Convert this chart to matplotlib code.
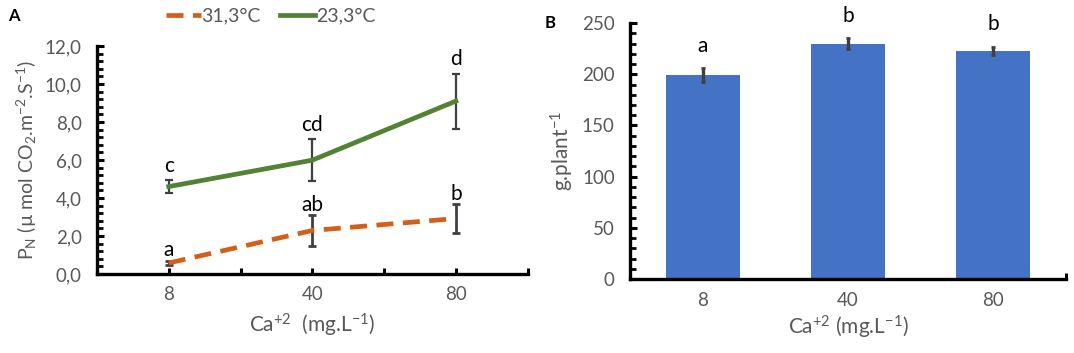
import matplotlib
matplotlib.use("Agg")
import matplotlib.pyplot as plt
from matplotlib.ticker import MultipleLocator, FixedLocator
from matplotlib.lines import Line2D
import numpy as np

plt.rcParams['font.family'] = ['Lato', 'DejaVu Sans']
plt.rcParams['mathtext.default'] = 'regular'

# ---- data ----
categories = ["8", "40", "80"]
pn_hot = [0.58, 2.29, 2.92]          # 31,3°C
pn_hot_err = [0.12, 0.80, 0.75]
pn_cool = [4.6, 5.99, 9.1]           # 23,3°C
pn_cool_err = [0.35, 1.12, 1.45]
letters_hot = ["a", "ab", "b"]
letters_cool = ["c", "cd", "d"]
series_names = ["31,3°C", "23,3°C"]

mass = [199, 230, 223]
mass_err = [7, 5, 4]
letters_mass = ["a", "b", "b"]

ORANGE = "#D2601A"
GREEN = "#548235"
BLUE = "#4472C4"
GRAY = "#595959"
ERR = "#404040"
DASH = (0, (3.6, 2.0))

fig = plt.figure(figsize=(10.74, 3.53), dpi=100)

# ---------- panel A ----------
axA = fig.add_axes([0.0903, 0.2238, 0.401, 0.646])
x = np.arange(len(categories))
axA.errorbar(x, pn_hot, yerr=pn_hot_err, color=ORANGE, lw=3.4, ls=DASH,
             ecolor=ERR, elinewidth=2.0, capsize=3, capthick=2.0, zorder=3)
axA.errorbar(x, pn_cool, yerr=pn_cool_err, color=GREEN, lw=3.4,
             ecolor=ERR, elinewidth=1.6, capsize=3, capthick=1.6, zorder=3)
for xi, v, e, t in zip(x, pn_hot, pn_hot_err, letters_hot):
    axA.text(xi, v + e + 0.55, t, ha="center", va="center", fontsize=15, color="black")
for xi, v, e, t in zip(x, pn_cool, pn_cool_err, letters_cool):
    axA.text(xi, v + e + 0.75, t, ha="center", va="center", fontsize=15, color="black",
             clip_on=False)

axA.set_xlim(-0.5, 2.5)
axA.set_ylim(0, 12)
axA.set_yticks(np.arange(0, 12.01, 2))
axA.set_yticklabels([f"{v:.1f}".replace(".", ",") for v in np.arange(0, 12.01, 2)])
axA.yaxis.set_minor_locator(MultipleLocator(0.4))
axA.set_xticks(x)
axA.set_xticklabels(categories)
axA.xaxis.set_minor_locator(FixedLocator([-0.5, 0.5, 1.5, 2.5]))
axA.set_xlabel("Ca$^{+2}$  (mg.L$^{-1}$)", fontsize=15, color=GRAY, labelpad=6)
axA.set_ylabel("P$_N$ (µ mol CO$_2$.m$^{-2}$.S$^{-1}$)", fontsize=14, color=GRAY, labelpad=4)

# ---------- panel B ----------
axB = fig.add_axes([0.5866, 0.2096, 0.406, 0.725])
axB.bar(x, mass, width=0.51, color=BLUE, zorder=2)
axB.errorbar(x, mass, yerr=mass_err, fmt="none", ecolor=ERR, elinewidth=2.4,
             capsize=1.5, capthick=2, zorder=3)
for xi, v, e, t in zip(x, mass, mass_err, letters_mass):
    axB.text(xi, v + e + 22, t, ha="center", va="center", fontsize=15, color="black",
             clip_on=False)
axB.set_xlim(-0.5, 2.5)
axB.set_ylim(0, 250)
axB.yaxis.set_major_locator(MultipleLocator(50))
axB.yaxis.set_minor_locator(MultipleLocator(10))
axB.set_xticks(x)
axB.set_xticklabels(categories)
axB.xaxis.set_minor_locator(FixedLocator([2.5]))
axB.set_xlabel("Ca$^{+2}$ (mg.L$^{-1}$)", fontsize=15, color=GRAY, labelpad=4)
axB.set_ylabel("g.plant$^{-1}$", fontsize=15, color=GRAY, labelpad=4)

for ax in (axA, axB):
    for s in ("top", "right"):
        ax.spines[s].set_visible(False)
    for s in ("left", "bottom"):
        ax.spines[s].set_linewidth(2.4)
        ax.spines[s].set_color("black")
        ax.spines[s].set_zorder(4)
    ax.tick_params(which="both", direction="in", color="black", labelcolor=GRAY,
                   labelsize=13.5)
    ax.tick_params(axis="y", which="major", length=5, width=2.2, pad=11)
    ax.tick_params(axis="y", which="minor", length=4, width=2.0)
    ax.tick_params(axis="x", which="both", length=4, width=2.2, pad=9)
    ax.set_facecolor("none")

handles = [Line2D([], [], color=ORANGE, lw=3.4, ls=DASH),
           Line2D([], [], color=GREEN, lw=3.4)]
fig.legend(handles=handles, labels=series_names, loc="center",
           bbox_to_anchor=(0.252, 0.955), ncol=2, frameon=False, fontsize=14,
           handlelength=1.8, handletextpad=0.05, columnspacing=1.0, labelcolor=GRAY)

fig.text(0.008, 0.955, "A", fontsize=12, fontweight="bold", va="center")
fig.text(0.507, 0.935, "B", fontsize=12, fontweight="bold", va="center")

fig.savefig("out.png", dpi=100)
